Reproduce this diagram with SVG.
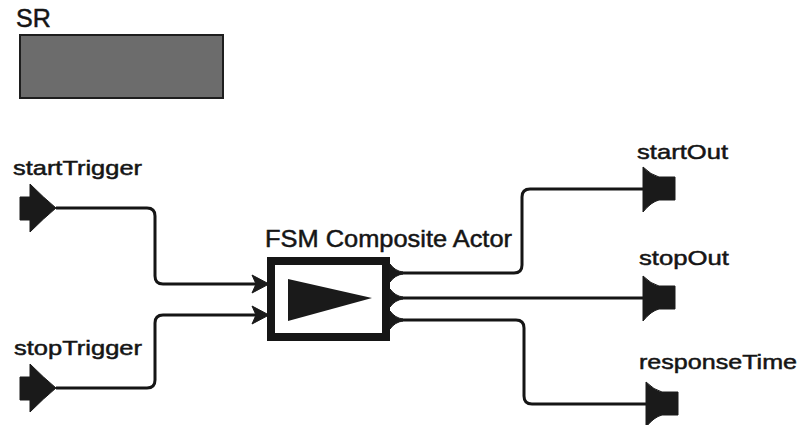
<svg xmlns="http://www.w3.org/2000/svg" width="800" height="425" viewBox="0 0 800 425">
<style>
.lbl{font-family:"Liberation Sans",Arial,sans-serif;fill:#151515;stroke:#151515;stroke-width:0.5;}
.wire{fill:none;stroke:#151515;stroke-width:3;stroke-linejoin:round;}
.shape{fill:#1a1a1a;stroke:#1a1a1a;stroke-width:1;}
</style>
<defs>
<path id="inport" d="M-36,-11 H-26 V-24 Q-12,-10 0,0 Q-12,10 -26,24 V12 H-36 Z"/>
<path id="outport" d="M0,-22 Q8,-14 16,-12 H32 V11 H16 Q8,13 0,23 Z"/>
<path id="arrowIn" d="M-17,-9 L0,0 L-17,9 L-13,0 Z"/>
<path id="actOut" d="M0,-9 Q5,-2 13,-1 V1 Q5,2 0,9 Z"/>
</defs>
<rect x="0" y="0" width="800" height="425" fill="#ffffff"/>

<g id="sr">
<text class="lbl" x="16" y="27" font-size="25">SR</text>
<rect x="20" y="35" width="203" height="63" fill="#6c6c6c" stroke="#1e1e1e" stroke-width="2"/>
</g>

<g id="connectors">
<path class="wire" d="M56,208 H147 Q155,208 155,216 V276 Q155,284 163,284 H256"/>
<path class="wire" d="M56,388 H147 Q155,388 155,380 V323 Q155,315 163,315 H256"/>
<path class="wire" d="M402,273 H514 Q522,273 522,265 V197 Q522,189 530,189 H645"/>
<path class="wire" d="M402,298 H645"/>
<path class="wire" d="M402,320 H516 Q524,320 524,328 V396 Q524,404 532,404 H648"/>
<use href="#arrowIn" class="shape" x="269" y="284"/>
<use href="#arrowIn" class="shape" x="269" y="315"/>
</g>

<g id="startTrigger">
<text class="lbl" x="13" y="175" font-size="21" textLength="129" lengthAdjust="spacingAndGlyphs">startTrigger</text>
<use href="#inport" class="shape" x="56" y="208"/>
</g>

<g id="stopTrigger">
<text class="lbl" x="14" y="355" font-size="21" textLength="128" lengthAdjust="spacingAndGlyphs">stopTrigger</text>
<use href="#inport" class="shape" x="56" y="388"/>
</g>

<g id="fsm">
<text class="lbl" x="265" y="247" font-size="24" textLength="247" lengthAdjust="spacingAndGlyphs">FSM Composite Actor</text>
<rect x="271" y="261" width="115" height="76" fill="#ffffff" stroke="#161616" stroke-width="8"/>
<path d="M288,279 L372,298 L288,321 Z" fill="#1a1a1a"/>
<use href="#actOut" class="shape" x="390" y="273"/>
<use href="#actOut" class="shape" x="390" y="298"/>
<use href="#actOut" class="shape" x="390" y="320"/>
</g>

<g id="startOut">
<text class="lbl" x="637" y="159" font-size="21" textLength="91" lengthAdjust="spacingAndGlyphs">startOut</text>
<use href="#outport" class="shape" x="643" y="189"/>
</g>

<g id="stopOut">
<text class="lbl" x="639" y="265" font-size="21" textLength="90" lengthAdjust="spacingAndGlyphs">stopOut</text>
<use href="#outport" class="shape" x="643" y="298"/>
</g>

<g id="responseTime">
<text class="lbl" x="639" y="369" font-size="21" textLength="158" lengthAdjust="spacingAndGlyphs">responseTime</text>
<use href="#outport" class="shape" x="646" y="404"/>
</g>
</svg>
